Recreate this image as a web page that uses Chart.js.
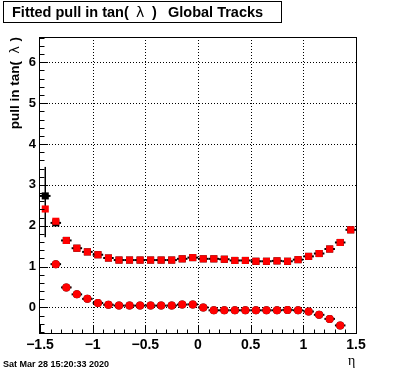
<!DOCTYPE html>
<html>
<head>
<meta charset="utf-8">
<script src="https://cdn.jsdelivr.net/npm/chart.js@4.4.1/dist/chart.umd.min.js"></script>
<style>
  html, body { margin: 0; padding: 0; background: #fff; }
  #wrap { width: 396px; height: 372px; }
</style>
</head>
<body>
<div id="wrap"><canvas id="pullChart" width="396" height="372"></canvas></div>
<script>
// bin centres in eta
const etaBins = [-1.45, -1.35, -1.25, -1.15, -1.05, -0.95, -0.85, -0.75, -0.65, -0.55,
                 -0.45, -0.35, -0.25, -0.15, -0.05, 0.05, 0.15, 0.25, 0.35, 0.45,
                 0.55, 0.65, 0.75, 0.85, 0.95, 1.05, 1.15, 1.25, 1.35, 1.45];

// width of pull (squares)
const sigmaRed = [2.41, 2.11, 1.64, 1.45, 1.36, 1.29, 1.21, 1.16, 1.16, 1.16,
                  1.16, 1.16, 1.16, 1.19, 1.22, 1.19, 1.19, 1.18, 1.15, 1.15,
                  1.13, 1.13, 1.14, 1.13, 1.17, 1.25, 1.32, 1.43, 1.59, 1.90];
const sigmaBlack = [2.73, 2.07, 1.64, 1.45, 1.36, 1.29, 1.21, 1.16, 1.16, 1.16,
                    1.16, 1.16, 1.16, 1.19, 1.22, 1.19, 1.19, 1.18, 1.15, 1.15,
                    1.13, 1.13, 1.14, 1.13, 1.17, 1.25, 1.32, 1.43, 1.59, 1.90];
const sigmaBlackErrLo = [1.01, 0, 0, 0, 0, 0, 0, 0, 0, 0, 0, 0, 0, 0, 0,
                         0, 0, 0, 0, 0, 0, 0, 0, 0, 0, 0, 0, 0, 0, 0];
const sigmaBlackErrHi = [0.71, 0, 0, 0, 0, 0, 0, 0, 0, 0, 0, 0, 0, 0, 0,
                         0, 0, 0, 0, 0, 0, 0, 0, 0, 0, 0, 0, 0, 0, 0];

// mean of pull (circles)
const meanRed = [null, 1.06, 0.49, 0.32, 0.21, 0.11, 0.065, 0.045, 0.045, 0.045,
                 0.045, 0.045, 0.045, 0.07, 0.075, 0.0, -0.07, -0.07, -0.07, -0.07,
                 -0.07, -0.07, -0.07, -0.06, -0.07, -0.10, -0.18, -0.28, -0.44, null];
const meanBlack = meanRed;

const xTicks = [-1.5, -1, -0.5, 0, 0.5, 1, 1.5];
const yTicks = [0, 1, 2, 3, 4, 5, 6];

const toPoints = vals => etaBins.map((x, i) => ({ x: x, y: vals[i] }));

const sansBold = px => 'bold ' + px + 'px "Liberation Sans", Arial, sans-serif';

const rootStyle = {
    id: 'rootStyle',
    beforeDatasetsDraw(chart) {
        const { ctx, chartArea: a, scales: { x, y } } = chart;
        ctx.save();
        ctx.strokeStyle = '#000';
        ctx.lineWidth = 1;
        ctx.setLineDash([1, 2]);
        xTicks.forEach(v => {
            if (v <= x.min || v >= x.max) return;
            const px = Math.round(x.getPixelForValue(v)) + 0.5;
            ctx.beginPath(); ctx.moveTo(px, a.top); ctx.lineTo(px, a.bottom); ctx.stroke();
        });
        yTicks.forEach(v => {
            const py = Math.round(y.getPixelForValue(v)) + 0.5;
            ctx.beginPath(); ctx.moveTo(a.left, py); ctx.lineTo(a.right, py); ctx.stroke();
        });
        ctx.setLineDash([]);

        // black error bars
        ctx.lineWidth = 2;
        const bars = (vals, lo, hi) => {
            etaBins.forEach((e, i) => {
                if (vals[i] === null) return;
                const py = y.getPixelForValue(vals[i]);
                ctx.beginPath();
                ctx.moveTo(x.getPixelForValue(e - 0.05), py);
                ctx.lineTo(x.getPixelForValue(e + 0.05), py);
                ctx.stroke();
                if (lo && (lo[i] || hi[i])) {
                    const px = x.getPixelForValue(e);
                    ctx.lineWidth = 1.5;
                    ctx.beginPath();
                    ctx.moveTo(px, y.getPixelForValue(vals[i] - lo[i]));
                    ctx.lineTo(px, y.getPixelForValue(vals[i] + hi[i]));
                    ctx.stroke();
                    ctx.lineWidth = 2;
                }
            });
        };
        bars(sigmaBlack, sigmaBlackErrLo, sigmaBlackErrHi);
        bars(meanBlack);
        ctx.restore();
    },
    afterDraw(chart) {
        const { ctx, chartArea: a, scales: { x, y } } = chart;
        ctx.save();
        ctx.strokeStyle = '#000';
        ctx.lineWidth = 1;
        // frame
        ctx.strokeRect(Math.round(a.left) - 0.5, Math.round(a.top) + 0.5,
                       Math.round(a.right - a.left) + 1, Math.round(a.bottom - a.top) - 1);
        // y ticks (inside, major 1, minor 0.2)
        for (let k = Math.ceil(y.min / 0.2); k * 0.2 <= y.max; k++) {
            const v = k * 0.2;
            const major = Math.abs(v - Math.round(v)) < 1e-6;
            const py = Math.round(y.getPixelForValue(v)) + 0.5;
            ctx.beginPath(); ctx.moveTo(a.left, py); ctx.lineTo(a.left + (major ? 8 : 4.5), py); ctx.stroke();
        }
        // x ticks (inside, major 0.5, minor 0.1)
        for (let k = Math.ceil(x.min / 0.1 - 1e-6); k * 0.1 <= x.max + 1e-6; k++) {
            const v = k * 0.1;
            const major = Math.abs(v * 2 - Math.round(v * 2)) < 1e-6;
            const px = Math.round(x.getPixelForValue(v)) + 0.5;
            ctx.beginPath(); ctx.moveTo(px, a.bottom); ctx.lineTo(px, a.bottom - (major ? 9 : 4.5)); ctx.stroke();
        }

        // title box
        ctx.fillStyle = '#fff';
        ctx.fillRect(3.5, 1.5, 278, 21);
        ctx.strokeRect(3.5, 1.5, 278, 21);
        ctx.fillStyle = '#000';
        ctx.font = sansBold(14.5);
        ctx.textAlign = 'left';
        ctx.textBaseline = 'alphabetic';
        ctx.fillText('Fitted pull in tan(', 12, 17);
        ctx.fillText(')', 152, 17);
        ctx.fillText('Global Tracks', 168, 17);
        ctx.font = '14px "DejaVu Sans", sans-serif';
        ctx.fillText('\u03bb', 136, 17);

        // y axis title
        ctx.save();
        ctx.translate(19, 37);
        ctx.rotate(-Math.PI / 2);
        ctx.textAlign = 'right';
        ctx.font = sansBold(13.5);
        ctx.fillText(')', 0, 0);
        ctx.fillText('pull in tan(', -24, 0);
        ctx.font = '13px "DejaVu Sans", sans-serif';
        ctx.fillText('\u03bb', -9, 0);
        ctx.restore();

        // x axis title
        ctx.font = '14px "Liberation Serif", "DejaVu Serif", serif';
        ctx.textAlign = 'left';
        ctx.fillText('\u03b7', 348, 365);

        // date stamp
        ctx.font = sansBold(9);
        ctx.fillText('Sat Mar 28 15:20:33 2020', 3, 367);
        ctx.restore();
    }
};

const ctx = document.getElementById('pullChart').getContext('2d');
new Chart(ctx, {
    type: 'scatter',
    data: {
        datasets: [
            {
                label: 'sigma',
                data: toPoints(sigmaRed),
                pointStyle: 'rect',
                pointRadius: 5,
                backgroundColor: '#ff0000',
                borderWidth: 0
            },
            {
                label: 'mean',
                data: toPoints(meanRed),
                pointStyle: 'circle',
                pointRadius: 4,
                backgroundColor: '#ff0000',
                borderWidth: 0
            },
            {
                label: 'sigma global',
                data: toPoints(sigmaBlack),
                pointStyle: 'rect',
                pointRadius: 5,
                backgroundColor: '#000',
                borderWidth: 0
            },
            {
                label: 'mean global',
                data: toPoints(meanBlack),
                pointStyle: 'circle',
                pointRadius: 4,
                backgroundColor: '#000',
                borderWidth: 0
            }
        ]
    },
    options: {
        responsive: false,
        animation: false,
        events: [],
        layout: {
            padding: { top: 37, right: 40, left: 0, bottom: 0 }
        },
        plugins: {
            legend: { display: false },
            tooltip: { enabled: false }
        },
        scales: {
            x: {
                type: 'linear',
                min: -1.5,
                max: 1.5,
                afterFit: s => { s.height = 38; },
                afterBuildTicks: s => { s.ticks = xTicks.map(v => ({ value: v })); },
                grid: { display: false, drawTicks: false },
                border: { display: false },
                ticks: {
                    color: '#000',
                    padding: 3,
                    maxRotation: 0,
                    autoSkip: false,
                    font: { family: '"Liberation Sans", Arial, sans-serif', size: 14, weight: 'bold' },
                    callback: v => String(v).replace('-', '\u2212')
                }
            },
            y: {
                type: 'linear',
                min: -0.65,
                max: 6.62,
                afterFit: s => { s.width = 40; },
                afterBuildTicks: s => { s.ticks = yTicks.map(v => ({ value: v })); },
                grid: { display: false, drawTicks: false },
                border: { display: false },
                ticks: {
                    color: '#000',
                    padding: 4,
                    autoSkip: false,
                    font: { family: '"Liberation Sans", Arial, sans-serif', size: 13, weight: 'bold' }
                }
            }
        }
    },
    plugins: [rootStyle]
});
</script>
</body>
</html>
